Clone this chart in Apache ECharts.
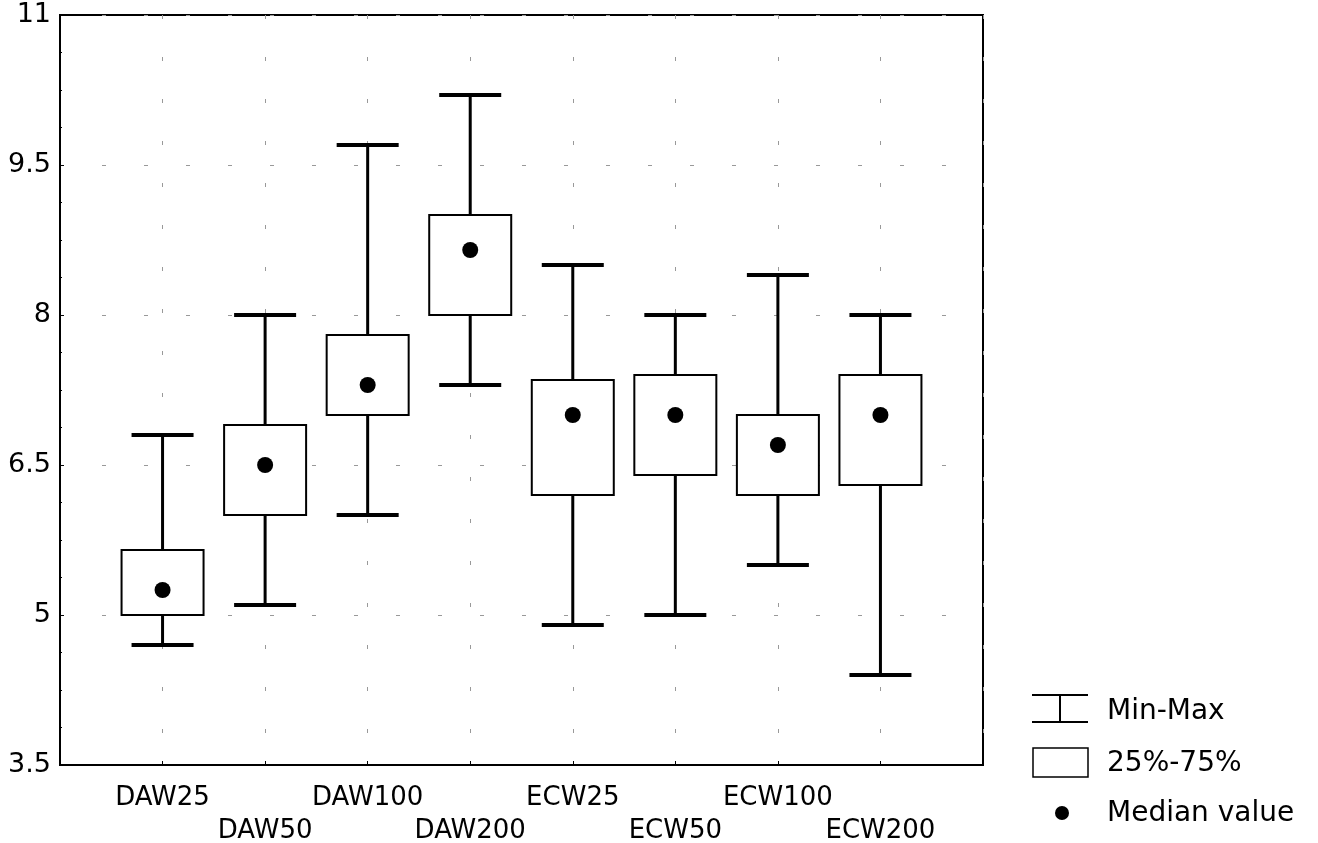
<!DOCTYPE html>
<html>
<head>
<meta charset="utf-8">
<script src="https://cdn.jsdelivr.net/npm/echarts@6/dist/echarts.min.js"></script>
<style>
html,body{margin:0;padding:0;background:#fff;}
#chart{width:1318px;height:843px;}
</style>
</head>
<body>
<div id="chart"></div>
<script>
const categories = ['DAW25','DAW50','DAW100','DAW200','ECW25','ECW50','ECW100','ECW200'];
const minVals    = [4.7, 5.1, 6.0, 7.3, 4.9, 5.0, 5.5, 4.4];
const q1Vals     = [5.0, 6.0, 7.0, 8.0, 6.2, 6.4, 6.2, 6.3];
const q3Vals     = [5.65, 6.9, 7.8, 9.0, 7.35, 7.4, 7.0, 7.4];
const maxVals    = [6.8, 8.0, 9.7, 10.2, 8.5, 8.0, 8.4, 8.0];
const medianVals = [5.25, 6.5, 7.3, 8.65, 7.0, 7.0, 6.7, 7.0];
const yMin = 3.5, yMax = 11, yStep = 1.5;

const FONT = 'DejaVu Sans';
const boxData = categories.map((c, i) => [i + 1, minVals[i], q1Vals[i], q3Vals[i], maxVals[i]]);
const medData = categories.map((c, i) => [i + 1, medianVals[i]]);

const chart = echarts.init(document.getElementById('chart'));
const gridLine = { show: true, lineStyle: { type: [4, 38], color: '#999', width: 1 } };

chart.setOption({
  animation: false,
  backgroundColor: '#fff',
  grid: { left: 60, top: 15, right: 335, bottom: 78, containLabel: false, outerBoundsMode: 'none',
          show: true, borderColor: '#000', borderWidth: 2, backgroundColor: 'transparent' },
  xAxis: {
    type: 'value', min: 0, max: 9, interval: 1,
    axisLine: { show: true, lineStyle: { color: '#000', width: 2 } },
    axisTick: { show: true, inside: true, length: 4, lineStyle: { color: '#000' } },
    splitLine: gridLine,
    axisLabel: {
      margin: 17, fontFamily: FONT, fontSize: 26, color: '#000', lineHeight: 33,
      formatter: function (v) {
        const i = Math.round(v) - 1;
        if (i < 0 || i >= categories.length) return '';
        return (i % 2 === 0) ? categories[i] : '\n' + categories[i];
      }
    }
  },
  yAxis: {
    type: 'value', min: yMin, max: yMax, interval: yStep,
    axisLine: { show: true, lineStyle: { color: '#000', width: 2 } },
    axisTick: { show: true, inside: true, length: 4, lineStyle: { color: '#000' } },
    minorTick: { show: true, splitNumber: 4, length: 2, lineStyle: { color: '#000' } },
    splitLine: gridLine,
    axisLabel: { margin: 9, fontFamily: FONT, fontSize: 27, color: '#000' }
  },
  series: [
    {
      name: 'Min-Max', type: 'custom', data: boxData, z: 2,
      renderItem: function (params, api) {
        const x = api.value(0);
        const lo = api.coord([x, api.value(1)]);
        const hi = api.coord([x, api.value(4)]);
        const hw = 31;
        const st = { stroke: '#000', lineWidth: 3 };
        return { type: 'group', children: [
          { type: 'line', shape: { x1: lo[0], y1: lo[1], x2: hi[0], y2: hi[1] }, style: st },
          { type: 'line', shape: { x1: lo[0] - hw, y1: lo[1], x2: lo[0] + hw, y2: lo[1] }, style: { stroke: '#000', lineWidth: 4 } },
          { type: 'line', shape: { x1: hi[0] - hw, y1: hi[1], x2: hi[0] + hw, y2: hi[1] }, style: { stroke: '#000', lineWidth: 4 } }
        ]};
      }
    },
    {
      name: '25%-75%', type: 'custom', data: boxData, z: 3,
      renderItem: function (params, api) {
        const x = api.value(0);
        const a = api.coord([x, api.value(2)]);
        const b = api.coord([x, api.value(3)]);
        const hw = 41;
        return { type: 'rect', shape: { x: a[0] - hw, y: b[1], width: hw * 2, height: a[1] - b[1] },
                 style: { fill: '#fff', stroke: '#000', lineWidth: 2 } };
      }
    },
    {
      name: 'Median value', type: 'scatter', data: medData, z: 4,
      symbol: 'circle', symbolSize: 16, itemStyle: { color: '#000', opacity: 1 }
    }
  ],
  graphic: [
    { type: 'line', shape: { x1: 1032, y1: 695, x2: 1088, y2: 695 }, style: { stroke: '#000', lineWidth: 2 } },
    { type: 'line', shape: { x1: 1060, y1: 695, x2: 1060, y2: 722 }, style: { stroke: '#000', lineWidth: 2 } },
    { type: 'line', shape: { x1: 1032, y1: 722, x2: 1088, y2: 722 }, style: { stroke: '#000', lineWidth: 2 } },
    { type: 'text', style: { x: 1107, y: 712, text: 'Min-Max', fontFamily: FONT, fontSize: 28, fill: '#000', verticalAlign: 'middle' } },
    { type: 'rect', shape: { x: 1033, y: 748, width: 55, height: 29 }, style: { fill: '#fff', stroke: '#000', lineWidth: 1.5 } },
    { type: 'text', style: { x: 1107, y: 764, text: '25%-75%', fontFamily: FONT, fontSize: 28, fill: '#000', verticalAlign: 'middle' } },
    { type: 'circle', shape: { cx: 1062, cy: 813, r: 7 }, style: { fill: '#000' } },
    { type: 'text', style: { x: 1107, y: 814, text: 'Median value', fontFamily: FONT, fontSize: 28, fill: '#000', verticalAlign: 'middle' } }
  ]
});
</script>
</body>
</html>
